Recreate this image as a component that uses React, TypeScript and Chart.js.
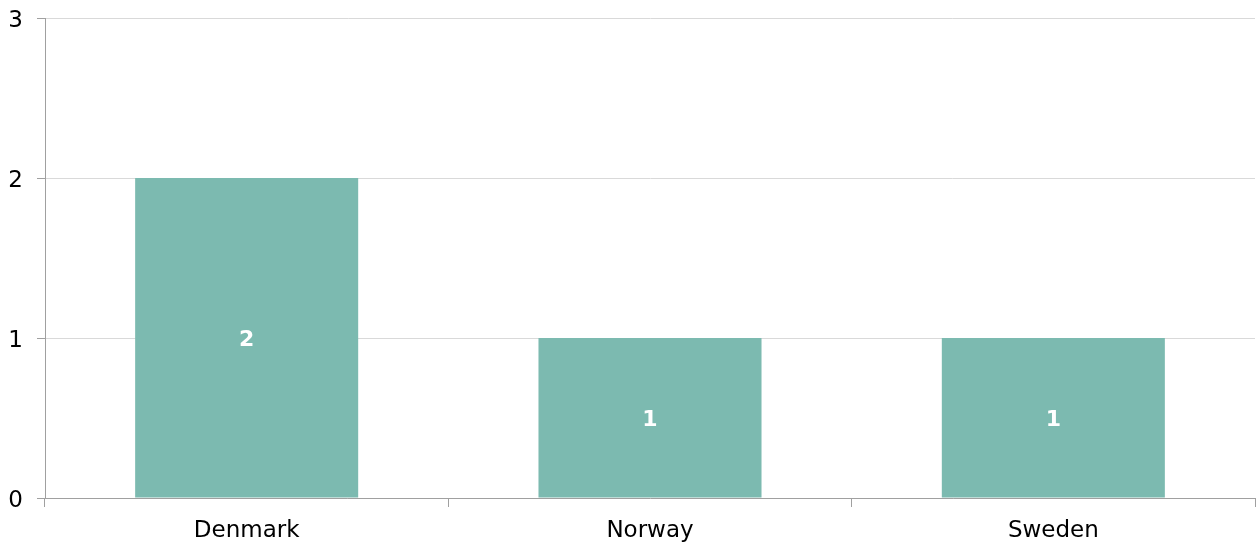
import React, { useEffect, useRef } from "react";
import { Chart, registerables } from "chart.js";

Chart.register(...registerables);

const categories: string[] = ["Denmark", "Norway", "Sweden"];
const values: number[] = [2, 1, 1];
const yTicks: number[] = [0, 1, 2, 3];

const FONT = "'DejaVu Sans', Verdana, sans-serif";

const barLabels = {
  id: "barLabels",
  afterDatasetsDraw(chart: any) {
    const ctx = chart.ctx;
    const meta = chart.getDatasetMeta(0);
    ctx.save();
    ctx.fillStyle = "#ffffff";
    ctx.font = `bold 22px ${FONT}`;
    ctx.textAlign = "center";
    ctx.textBaseline = "middle";
    meta.data.forEach((bar: any, i: number) => {
      const y = (bar.y + bar.base) / 2;
      ctx.fillText(String(values[i]), bar.x, y + 3);
    });
    ctx.restore();
  },
};

export default function App() {
  const ref = useRef<HTMLCanvasElement | null>(null);
  useEffect(() => {
    document.body.style.margin = "0";
    const chart = new Chart(ref.current as HTMLCanvasElement, {
      type: "bar",
      data: {
        labels: categories,
        datasets: [
          {
            data: values,
            backgroundColor: "#7cbab0",
            borderWidth: 0,
            barPercentage: 0.553,
            categoryPercentage: 1,
          },
        ],
      },
      plugins: [barLabels],
      options: {
        animation: false,
        responsive: false,
        maintainAspectRatio: false,
        layout: { padding: { top: 18, right: 1, left: 0, bottom: 0 } },
        plugins: { legend: { display: false }, tooltip: { enabled: false } },
        scales: {
          x: {
            grid: {
              offset: true,
              drawOnChartArea: false,
              drawTicks: true,
              tickLength: 9,
              tickColor: "#a0a0a0",
              color: "#a0a0a0",
            },
            border: { color: "#a0a0a0", width: 1 },
            ticks: {
              color: "#000000",
              font: { family: FONT, size: 23 },
              padding: 10,
            },
            afterFit(scale: any) {
              scale.height = 49;
              scale.paddingLeft = 0;
              scale.paddingRight = 0;
            },
          },
          y: {
            min: 0,
            max: 3,
            afterBuildTicks(scale: any) {
              scale.ticks = yTicks.map((v) => ({ value: v }));
            },
            grid: {
              color: "#d9d9d9",
              tickLength: 8,
              tickColor: "#a0a0a0",
            },
            border: { color: "#a0a0a0", width: 1 },
            ticks: {
              color: "#000000",
              font: { family: FONT, size: 23 },
              padding: 14,
              labelOffset: 3,
            },
            afterFit(scale: any) {
              scale.width = 45;
              scale.paddingTop = 0;
              scale.paddingBottom = 0;
            },
          },
        },
      },
    });
    return () => chart.destroy();
  }, []);
  return (
    <div style={{ width: 1256, height: 547 }}>
      <canvas ref={ref} width={1256} height={547} style={{ display: "block" }} />
    </div>
  );
}
